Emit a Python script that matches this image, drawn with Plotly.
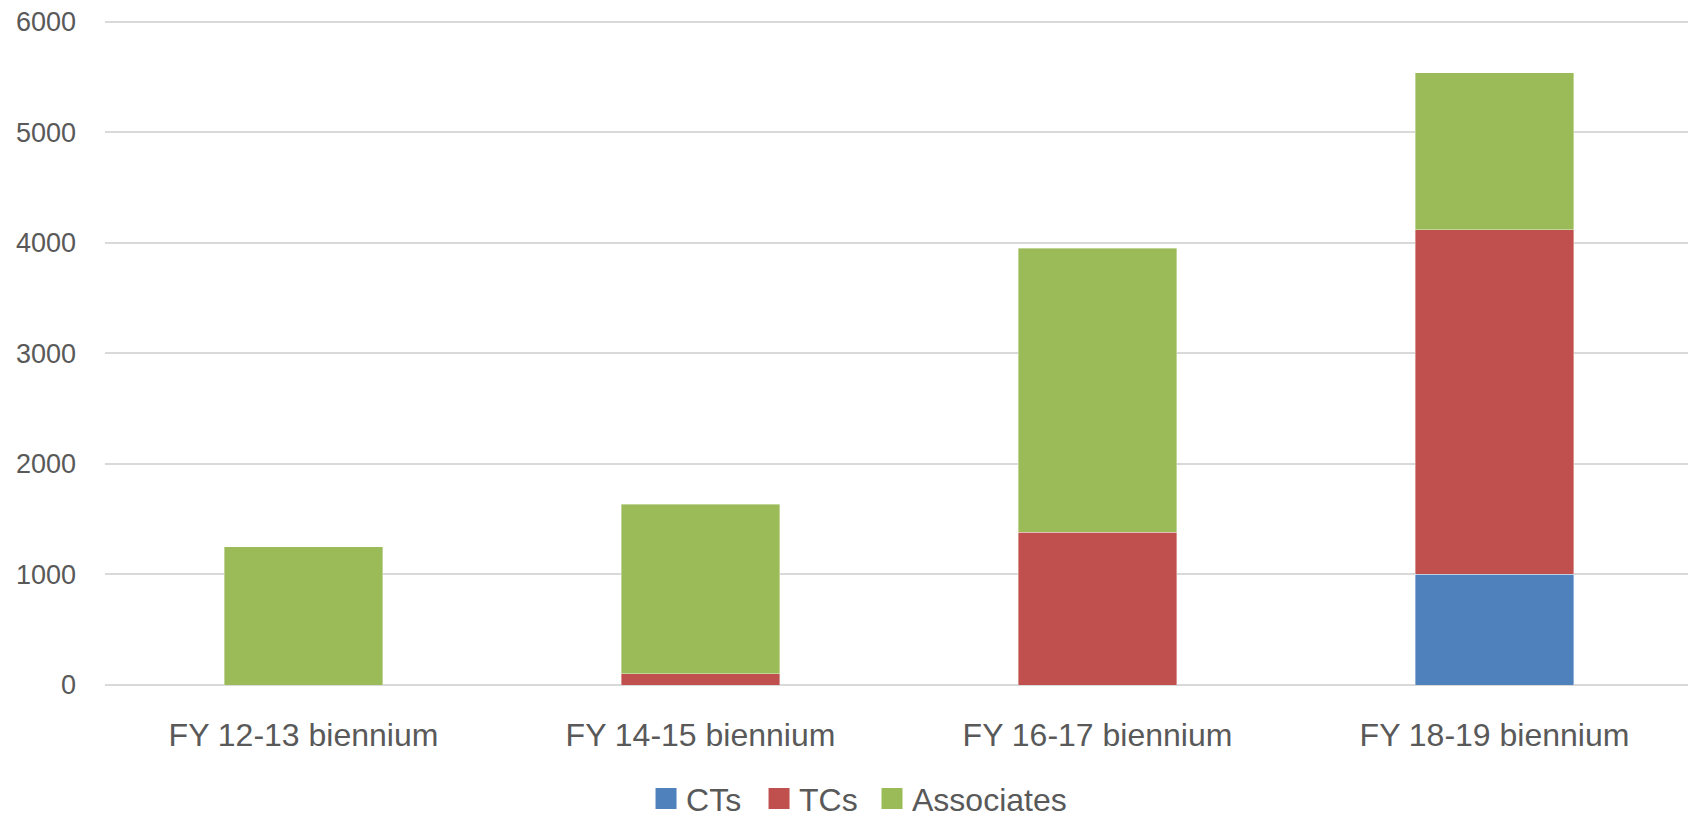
import plotly.graph_objects as go

# data
CATEGORIES = ["FY 12-13 biennium", "FY 14-15 biennium", "FY 16-17 biennium", "FY 18-19 biennium"]
CTS = [0, 0, 0, 1000]
TCS = [0, 100, 1380, 3120]
ASSOCIATES = [1250, 1535, 2570, 1420]

BLUE = "#4F81BD"
RED = "#C0504D"
GREEN = "#9BBB59"
TEXT = "#595959"
GRID = "#D9D9D9"
FONT = "Liberation Sans, Arial, sans-serif"

SERIES = [("CTs", CTS, BLUE, "legend"), ("TCs", TCS, RED, "legend"), ("Associates", ASSOCIATES, GREEN, "legend2")]

fig = go.Figure()
for name, vals, color, _ in SERIES:
    fig.add_trace(go.Bar(
        x=CATEGORIES, y=vals, name=name, showlegend=False,
        marker={"color": color, "line": {"color": "rgba(255,255,255,0.5)", "width": 0.75}},
    ))
# legend-only entries so the swatches come out as big squares like Excel's
for name, _, color, leg in SERIES:
    fig.add_trace(go.Scatter(
        x=[None], y=[None], name=name, mode="markers", legend=leg,
        marker={"symbol": "square", "size": 16, "color": color, "line": {"color": color, "width": 5}},
    ))

LEGEND_BASE = {
    "orientation": "h", "xanchor": "left", "y": -0.171, "yanchor": "middle",
    "font": {"size": 32, "color": TEXT}, "itemwidth": 30, "traceorder": "normal",
}

# page body has an 8px margin, so margins are pulled in by 8px to line up with the window
fig.update_layout(
    barmode="stack",
    bargap=0.6,
    width=1696,
    height=819,
    paper_bgcolor="white",
    plot_bgcolor="white",
    font={"family": FONT, "color": TEXT},
    margin={"l": 97, "r": 11, "t": 12, "b": 142, "autoexpand": False},
    showlegend=True,
    legend={**LEGEND_BASE, "x": 0.3407, "entrywidth": 68, "entrywidthmode": "pixels"},
    legend2={**LEGEND_BASE, "x": 0.483},
)
fig.update_xaxes(
    showgrid=False, showline=False, ticks="",
    tickfont={"size": 32, "color": TEXT}, ticklabelstandoff=28,
)
fig.update_yaxes(
    range=[0, 6015], tickvals=[0, 1000, 2000, 3000, 4000, 5000, 6000],
    showgrid=True, gridcolor=GRID, gridwidth=1.5,
    zeroline=True, zerolinecolor=GRID, zerolinewidth=1.5, showline=False, ticks="",
    tickfont={"size": 27, "color": TEXT}, ticklabelstandoff=28, ticklabeloverflow="allow",
)

fig.write_html("out.html")
